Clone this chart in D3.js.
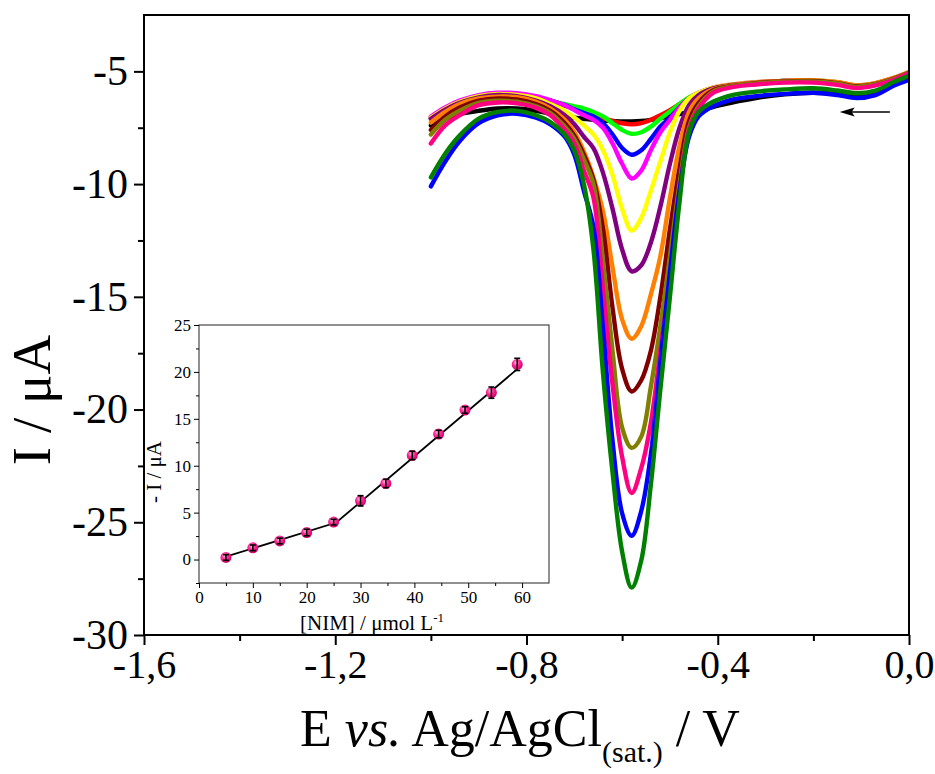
<!DOCTYPE html>
<html><head><meta charset="utf-8">
<script src="https://cdn.jsdelivr.net/npm/d3@7"></script>
<style>
body{margin:0;background:#fff}
svg{display:block}
text{font-family:"Liberation Serif","Times New Roman",serif;fill:#000}
</style>
</head><body>
<svg id="chart" width="935" height="774"></svg>
<script>
// ---------- main voltammograms ----------
const potentials = [-1.00,-0.97,-0.94,-0.90,-0.86,-0.82,-0.78,-0.75,-0.72,-0.70,-0.68,-0.66,-0.64,-0.62,-0.60,-0.58,-0.56,-0.54,-0.52,-0.50,-0.48,-0.46,-0.44,-0.41,-0.37,-0.32,-0.26,-0.20,-0.15,-0.11,-0.07,-0.03,0.00];
const curveBlank   = [-7.40,-7.10,-6.90,-6.75,-6.65,-6.65,-6.75,-6.88,-7.00,-7.05,-7.10,-7.15,-7.18,-7.20,-7.22,-7.22,-7.20,-7.15,-7.08,-7.00,-6.90,-6.80,-6.72,-6.58,-6.38,-6.18,-6.02,-5.95,-6.00,-6.05,-5.95,-5.55,-5.30];
const curveRed     = [-7.10,-6.72,-6.42,-6.15,-6.05,-6.06,-6.18,-6.35,-6.52,-6.66,-6.80,-6.95,-7.08,-7.20,-7.30,-7.35,-7.30,-7.15,-6.95,-6.72,-6.45,-6.18,-5.98,-5.78,-5.62,-5.52,-5.45,-5.42,-5.50,-5.64,-5.55,-5.30,-5.05];
const curveLime    = [-7.08,-6.70,-6.40,-6.12,-6.02,-6.03,-6.15,-6.30,-6.45,-6.55,-6.65,-6.80,-7.00,-7.30,-7.60,-7.77,-7.70,-7.45,-7.10,-6.78,-6.45,-6.15,-5.95,-5.76,-5.60,-5.50,-5.43,-5.40,-5.48,-5.62,-5.53,-5.28,-5.04];
const curveBlue1   = [-7.05,-6.66,-6.36,-6.10,-6.00,-6.02,-6.14,-6.30,-6.50,-6.68,-6.85,-7.00,-7.30,-7.80,-8.40,-8.70,-8.50,-8.00,-7.45,-7.05,-6.60,-6.20,-5.96,-5.75,-5.60,-5.50,-5.43,-5.41,-5.50,-5.64,-5.55,-5.30,-5.05];
const curveMagenta = [-7.00,-6.60,-6.30,-6.05,-5.95,-5.97,-6.10,-6.28,-6.50,-6.72,-6.95,-7.15,-7.50,-8.20,-9.10,-9.75,-9.40,-8.50,-7.70,-7.15,-6.60,-6.20,-5.95,-5.72,-5.58,-5.48,-5.42,-5.40,-5.48,-5.62,-5.52,-5.28,-5.03];
const curveYellow  = [-7.05,-6.65,-6.35,-6.10,-6.00,-6.05,-6.20,-6.45,-6.75,-7.05,-7.40,-7.80,-8.50,-9.60,-11.10,-12.06,-11.50,-10.30,-9.00,-7.70,-6.75,-6.20,-5.95,-5.72,-5.58,-5.48,-5.42,-5.40,-5.48,-5.62,-5.52,-5.28,-5.03];
const curvePurple  = [-7.10,-6.70,-6.40,-6.15,-6.05,-6.10,-6.30,-6.55,-6.95,-7.35,-7.90,-8.40,-9.50,-11.10,-12.90,-13.87,-13.60,-12.60,-11.00,-9.10,-7.50,-6.50,-6.05,-5.75,-5.60,-5.50,-5.43,-5.42,-5.50,-5.64,-5.54,-5.30,-5.05];
const curveOrange  = [-7.27,-6.80,-6.45,-6.20,-6.12,-6.15,-6.35,-6.65,-7.15,-7.70,-8.55,-9.70,-11.20,-13.70,-16.00,-16.86,-16.30,-14.90,-13.20,-10.60,-8.30,-6.80,-6.20,-5.80,-5.62,-5.50,-5.42,-5.40,-5.48,-5.62,-5.52,-5.28,-5.04];
const curveMaroon  = [-7.60,-7.00,-6.60,-6.30,-6.20,-6.25,-6.45,-6.75,-7.30,-7.85,-8.70,-9.80,-12.00,-15.50,-18.20,-19.20,-18.70,-17.40,-15.00,-12.00,-9.30,-7.20,-6.40,-5.85,-5.65,-5.52,-5.45,-5.43,-5.52,-5.66,-5.56,-5.31,-5.06];
const curveOlive   = [-7.80,-7.15,-6.75,-6.40,-6.30,-6.35,-6.55,-6.85,-7.45,-8.00,-8.90,-10.00,-13.40,-17.40,-20.80,-21.70,-21.20,-19.00,-16.30,-13.20,-10.00,-7.50,-6.55,-5.90,-5.66,-5.54,-5.46,-5.45,-5.54,-5.68,-5.57,-5.32,-5.07];
const curvePink    = [-8.20,-7.40,-6.95,-6.50,-6.38,-6.42,-6.62,-6.95,-7.60,-8.20,-9.40,-10.60,-14.70,-18.90,-22.10,-23.70,-22.60,-20.60,-17.40,-14.20,-10.40,-7.60,-6.65,-5.95,-5.70,-5.58,-5.50,-5.50,-5.60,-5.74,-5.62,-5.36,-5.10];
const curveBlue2   = [-10.10,-9.00,-8.10,-7.30,-6.95,-6.88,-7.05,-7.35,-7.90,-8.70,-10.30,-11.90,-16.40,-21.40,-24.60,-25.60,-24.50,-22.00,-17.90,-13.90,-10.30,-7.90,-7.00,-6.55,-6.25,-6.10,-6.00,-5.95,-6.05,-6.18,-6.05,-5.62,-5.38];
const curveGreen   = [-9.70,-8.65,-7.85,-7.10,-6.80,-6.75,-6.95,-7.25,-7.80,-8.50,-10.00,-12.90,-18.40,-22.80,-26.30,-27.90,-26.70,-23.35,-19.10,-15.00,-10.80,-7.70,-6.80,-6.35,-6.05,-5.90,-5.80,-5.75,-5.85,-5.97,-5.85,-5.45,-5.20];
const curveColors  = ["#000000","#ff0000","#00ff00","#0000ff","#ff00ff","#ffff00","#800080","#ff8000","#800000","#808000","#ff0080","#0000ff","#008000"];

const mainXTicks = [-1.6,-1.2,-0.8,-0.4,0.0];
const mainXMinor = [-1.4,-1.0,-0.6,-0.2];
const mainYTicks = [-30,-25,-20,-15,-10,-5];
const mainYMinor = [-27.5,-22.5,-17.5,-12.5,-7.5];
const arrowE = [-0.04,-0.145];
const arrowI = -6.8;

// ---------- inset calibration ----------
const concNIM   = [5,10,15,20,25,30,34.7,39.6,44.5,49.4,54.3,59.1];
const peakCurr  = [0.22,1.25,1.98,2.88,3.99,6.26,8.11,11.10,13.38,15.94,17.79,20.80];
const peakErr   = [0.30,0.30,0.30,0.35,0.30,0.55,0.45,0.45,0.40,0.35,0.60,0.65];
const fitConc   = [5,25.5,59.1];
const fitCurr   = [0.30,3.95,20.30];
const insetXTicks = [0,10,20,30,40,50,60];
const insetXMinor = [5,15,25,35,45,55];
const insetYTicks = [0,5,10,15,20,25];
const insetYMinor = [-2.5,2.5,7.5,12.5,17.5,22.5];

const svg = d3.select("#chart");
const L = 144, R = 909, T = 15, B = 635;
const x = d3.scaleLinear().domain([-1.6,0]).range([L,R]);
const y = d3.scaleLinear().domain([-30,-2.5]).range([B,T]);

svg.append("defs").append("clipPath").attr("id","plotclip")
  .append("rect").attr("x",L).attr("y",T).attr("width",R-L).attr("height",B-T);

const series = [curveBlank,curveRed,curveLime,curveBlue1,curveMagenta,curveYellow,curvePurple,curveOrange,curveMaroon,curveOlive,curvePink,curveBlue2,curveGreen];
const line = d3.line().x(d=>x(d[0])).y(d=>y(d[1])).curve(d3.curveCatmullRom.alpha(0.5));
const g = svg.append("g").attr("clip-path","url(#plotclip)");
series.forEach((s,i)=>{
  g.append("path").datum(potentials.map((e,k)=>[e,s[k]]))
   .attr("d",line).attr("fill","none").attr("stroke",curveColors[i])
   .attr("stroke-width",4.4).attr("stroke-linejoin","round").attr("stroke-linecap","round");
});

// arrow
svg.append("line").attr("x1",x(arrowE[0])).attr("x2",x(arrowE[1])+10).attr("y1",y(arrowI)).attr("y2",y(arrowI))
  .attr("stroke","#000").attr("stroke-width",1.5);
const ax = x(arrowE[1]), ay = y(arrowI);
svg.append("path").attr("d",`M${ax},${ay}L${ax+15},${ay-4.5}L${ax+12},${ay}L${ax+15},${ay+4.5}Z`).attr("fill","#000");

// frame
svg.append("rect").attr("x",L).attr("y",T).attr("width",R-L).attr("height",B-T)
  .attr("fill","none").attr("stroke","#000").attr("stroke-width",2);

const fmtX = d => d3.format(".1f")(d).replace(".",",").replace("\u2212","-");
const xAxis = svg.append("g").attr("transform",`translate(0,${B})`)
  .call(d3.axisBottom(x).tickValues(mainXTicks).tickFormat(fmtX).tickSize(10).tickPadding(5));
svg.append("g").attr("transform",`translate(0,${B})`)
  .call(d3.axisBottom(x).tickValues(mainXMinor).tickFormat("").tickSize(6));
const yAxis = svg.append("g").attr("transform",`translate(${L},0)`)
  .call(d3.axisLeft(y).tickValues(mainYTicks).tickFormat(d=>String(d)).tickSize(10).tickPadding(6));
svg.append("g").attr("transform",`translate(${L},0)`)
  .call(d3.axisLeft(y).tickValues(mainYMinor).tickFormat("").tickSize(6));
svg.selectAll(".domain").remove();
svg.selectAll(".tick line").attr("stroke","#000").attr("stroke-width",2);
xAxis.selectAll("text").attr("font-size",40).attr("font-family","Liberation Serif");
yAxis.selectAll("text").attr("font-size",42).attr("font-family","Liberation Serif");

// axis titles
svg.append("text").attr("transform","translate(50,400) rotate(-90)")
  .attr("text-anchor","middle").attr("font-size",55).text("I / μA");
const xt = svg.append("text").attr("x",520).attr("y",746).attr("text-anchor","middle").attr("font-size",52);
xt.append("tspan").text("E ");
xt.append("tspan").attr("font-style","italic").text("vs.");
xt.append("tspan").text(" Ag/AgCl");
xt.append("tspan").attr("font-size",30).attr("dy",16).text("(sat.)");
xt.append("tspan").attr("dy",-16).text(" / V");

// ---------- inset ----------
const iL = 199, iR = 549, iT = 325, iB = 583;
const xi = d3.scaleLinear().domain([0,65]).range([iL,iR]);
const yi = d3.scaleLinear().domain([-2.5,25]).range([iB,iT]);
svg.append("rect").attr("x",iL).attr("y",iT).attr("width",iR-iL).attr("height",iB-iT)
  .attr("fill","#fff").attr("stroke","#222").attr("stroke-width",1);
const ixa = svg.append("g").attr("transform",`translate(0,${iB})`)
  .call(d3.axisBottom(xi).tickValues(insetXTicks).tickSize(5).tickPadding(3));
svg.append("g").attr("transform",`translate(0,${iB})`)
  .call(d3.axisBottom(xi).tickValues(insetXMinor).tickFormat("").tickSize(3));
const iya = svg.append("g").attr("transform",`translate(${iL},0)`)
  .call(d3.axisLeft(yi).tickValues(insetYTicks).tickSize(5).tickPadding(3));
svg.append("g").attr("transform",`translate(${iL},0)`)
  .call(d3.axisLeft(yi).tickValues(insetYMinor).tickFormat("").tickSize(3));
svg.selectAll(".domain").remove();
ixa.selectAll("text").attr("font-size",17).attr("font-family","Liberation Serif");
iya.selectAll("text").attr("font-size",17).attr("font-family","Liberation Serif");
svg.selectAll(".tick line").attr("stroke","#000");

const grad = svg.select("defs").append("radialGradient").attr("id","ball").attr("cx","40%").attr("cy","35%").attr("r","65%");
grad.append("stop").attr("offset","0%").attr("stop-color","#ffc0e0");
grad.append("stop").attr("offset","45%").attr("stop-color","#ff2a95");
grad.append("stop").attr("offset","100%").attr("stop-color","#d0006a");

svg.append("path").datum(fitConc.map((c,k)=>[c,fitCurr[k]]))
  .attr("d",d3.line().x(d=>xi(d[0])).y(d=>yi(d[1])))
  .attr("fill","none").attr("stroke","#000").attr("stroke-width",1.8);

const pts = concNIM.map((c,k)=>({c, v:peakCurr[k], e:peakErr[k]}));
svg.append("g").selectAll("circle").data(pts).join("circle")
  .attr("cx",d=>xi(d.c)).attr("cy",d=>yi(d.v)).attr("r",5.5).attr("fill","url(#ball)");
const eb = svg.append("g").attr("stroke","#000").attr("stroke-width",1.6);
pts.forEach(d=>{
  eb.append("line").attr("x1",xi(d.c)).attr("x2",xi(d.c)).attr("y1",yi(d.v-d.e)).attr("y2",yi(d.v+d.e));
  eb.append("line").attr("x1",xi(d.c)-3).attr("x2",xi(d.c)+3).attr("y1",yi(d.v+d.e)).attr("y2",yi(d.v+d.e));
  eb.append("line").attr("x1",xi(d.c)-3).attr("x2",xi(d.c)+3).attr("y1",yi(d.v-d.e)).attr("y2",yi(d.v-d.e));
});

svg.append("text").attr("transform","translate(161,472) rotate(-90)")
  .attr("text-anchor","middle").attr("font-size",21).text("- I / μA");
const it = svg.append("text").attr("x",372).attr("y",630).attr("text-anchor","middle").attr("font-size",21);
it.append("tspan").text("[NIM] / μmol L");
it.append("tspan").attr("font-size",13).attr("dy",-8).text("-1");
</script>
</body></html>
